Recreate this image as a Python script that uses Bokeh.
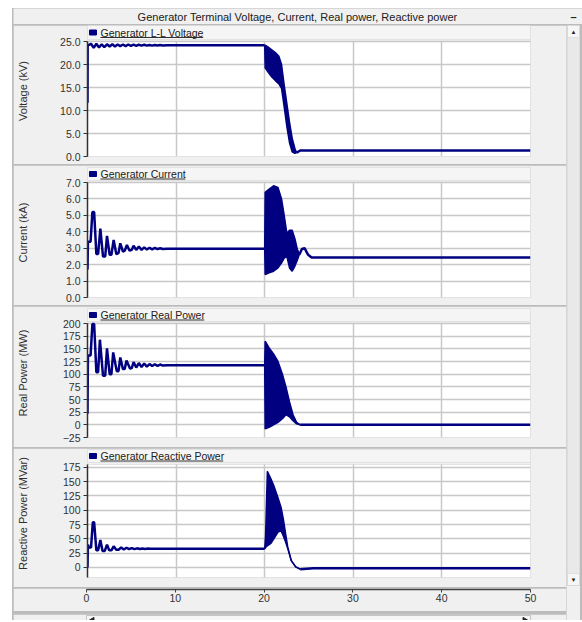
import math
from bokeh.plotting import figure
from bokeh.layouts import column, row
from bokeh.models import Range1d, FixedTicker, BoxAnnotation, Label, Grid, PrintfTickFormatter, Spacer
from bokeh.embed import file_html
from bokeh.resources import INLINE

# ---------------- data ----------------
TITLE = "Generator Terminal Voltage, Current, Real power, Reactive power"
x_ticks = [0, 10, 20, 30, 40, 50]

# Panel 1 : voltage
volt_legend = "Generator L-L Voltage"
volt_axis = "Voltage (kV)"
volt_ticks = [0, 5, 10, 15, 20, 25]
volt_t = [0.0, 0.02, 0.1, 0.4, 0.7, 1.0, 1.3, 1.6, 1.9, 2.2, 2.5, 2.8, 3.1, 3.4, 3.7, 4.0, 4.3,
          4.6, 4.9, 5.2, 5.5, 5.8, 6.1, 6.4, 6.7, 7.0, 7.3, 7.6, 7.9, 8.2, 8.5, 9.0, 20.0]
volt_v = [11.7, 24.0, 24.2, 24.5, 23.6, 24.5, 23.7, 24.4, 23.8, 24.4, 23.9, 24.4, 23.9, 24.35, 24.0,
          24.35, 24.0, 24.35, 24.05, 24.3, 24.05, 24.3, 24.1, 24.3, 24.1, 24.25, 24.1, 24.25, 24.15,
          24.25, 24.15, 24.2, 24.2]
volt_env_t = [20.0, 20.05, 20.4, 20.8, 21.2, 21.6, 21.9, 22.2, 22.5, 22.8, 23.1, 23.4, 23.6]
volt_env_hi = [24.2, 24.2, 23.8, 23.2, 22.6, 21.8, 20.0, 15.5, 11.5, 7.5, 4.0, 1.8, 0.8]
volt_env_lo = [24.2, 19.3, 18.3, 17.3, 16.5, 15.8, 14.8, 10.8, 6.5, 3.0, 1.0, 0.7, 0.8]
volt_post_t = [23.6, 24.0, 50.0]
volt_post_v = [0.8, 1.3, 1.3]

# Panel 2 : current
cur_legend = "Generator Current"
cur_axis = "Current (kA)"
cur_ticks = [0, 1, 2, 3, 4, 5, 6, 7]
cur_t = [0.0, 0.05, 0.35, 0.55, 0.75, 1.0, 1.2, 1.45, 1.75, 2.0, 2.2, 2.5, 2.7, 2.95, 3.25, 3.5,
         3.7, 4.0, 4.2, 4.45, 4.75, 5.0, 5.2, 5.5, 5.8, 6.1, 6.4, 6.7, 7.0, 7.3, 7.6, 7.9, 8.2,
         8.5, 9.0, 20.0]
cur_v = [1.7, 3.4, 3.4, 5.2, 5.2, 2.65, 2.65, 4.2, 2.5, 2.5, 3.75, 2.6, 2.6, 3.5, 2.65, 2.7, 3.3,
         2.8, 2.85, 3.2, 2.85, 2.9, 3.15, 2.9, 3.1, 2.9, 3.05, 2.92, 3.03, 2.93, 3.02, 2.94, 3.0,
         2.95, 2.97, 2.97]
cur_env_t = [20.0, 20.05, 20.5, 21.0, 21.5, 21.9, 22.2, 22.5, 22.8, 23.1, 23.4, 23.7, 23.9]
cur_env_hi = [2.97, 6.4, 6.6, 6.8, 6.7, 6.0, 5.0, 3.9, 4.1, 4.1, 3.6, 2.9, 2.7]
cur_env_lo = [2.97, 1.4, 1.5, 1.6, 1.8, 2.1, 2.4, 2.5, 1.8, 1.6, 1.9, 2.3, 2.6]
cur_post_t = [23.9, 24.2, 24.5, 24.9, 25.3, 50.0]
cur_post_v = [2.6, 2.95, 3.0, 2.6, 2.43, 2.43]

# Panel 3 : real power
p_legend = "Generator Real Power"
p_axis = "Real Power (MW)"
p_ticks = [-25, 0, 25, 50, 75, 100, 125, 150, 175, 200]
p_t = [0.0, 0.05, 0.35, 0.55, 0.75, 1.0, 1.2, 1.4, 1.75, 2.0, 2.2, 2.5, 2.7, 2.9, 3.3, 3.5, 3.7,
       4.0, 4.2, 4.4, 4.8, 5.0, 5.2, 5.5, 5.8, 6.1, 6.4, 6.7, 7.0, 7.3, 7.6, 7.9, 8.2, 8.5, 9.0, 20.0]
p_v = [22, 137, 137, 199, 199, 104, 104, 168, 97, 97, 151, 100, 100, 143, 106, 106, 133, 110, 110,
       127, 111, 112, 124, 113, 122, 114, 121, 115, 120, 116, 119.5, 116.5, 119, 117, 117.5, 117.5]
p_env_t = [20.0, 20.05, 20.5, 21.0, 21.5, 22.0, 22.4, 22.8, 23.2, 23.6, 24.0]
p_env_hi = [117.5, 165, 152, 140, 125, 100, 75, 45, 20, 5, 0]
p_env_lo = [117.5, -8, -5, 0, 5, 12, 20, 16, 8, 2, 0]
p_post_t = [24.0, 50.0]
p_post_v = [0, 0]

# Panel 4 : reactive power
q_legend = "Generator Reactive Power"
q_axis = "Reactive Power (MVar)"
q_ticks = [0, 25, 50, 75, 100, 125, 150, 175]
q_t = [0.0, 0.05, 0.15, 0.4, 0.6, 0.75, 1.0, 1.2, 1.45, 1.7, 1.95, 2.2, 2.45, 2.7, 2.95, 3.25, 3.5,
       3.8, 4.1, 4.4, 4.7, 5.0, 5.3, 5.6, 5.9, 6.2, 6.5, 6.8, 7.1, 20.0]
q_v = [0, 40, 35, 35, 79, 79, 30, 30, 48, 29, 29, 40, 30, 30, 37, 31, 31, 35, 31.5, 34.5, 32, 34,
       32, 33.5, 32.3, 33.2, 32.5, 33, 32.7, 32.7]
q_env_t = [20.0, 20.1, 20.3, 20.7, 21.1, 21.5, 21.85, 22.1, 22.35, 22.6, 23.0, 23.5, 24.0]
q_env_hi = [32.7, 56, 168, 155, 140, 122, 105, 85, 60, 36, 12, 1, -3]
q_env_lo = [32.7, 35, 38, 42, 52, 62, 64, 55, 45, 33, 12, 1, -3]
q_post_t = [24.0, 25.5, 50.0]
q_post_v = [-3, -1.2, -1.2]

# ---------------- style ----------------
NAVY = "#000080"
BG = "#f0f0f0"
SEP = "#bcbcbc"
FONT = "Liberation Sans"
PW = 553            # panel width (page x 13 .. 566)
LB = 73             # left border -> frame starts at page x 86
FRAME_W = 444
RB = PW - LB - FRAME_W
PX_PER_X = FRAME_W / 50.0


def make_panel(legend, ylabel, yticks, ybot, ytop, head_px, white_px, btop, bbot, fmt,
               lab_standoff, uline_px, t, v, et, ehi, elo, pt, pv):
    ppu = white_px / (ytop - ybot)
    yend = ytop + head_px / ppu

    def val(px):
        return yend - px / ppu

    p = figure(width=PW, height=btop + head_px + white_px + bbot,
               x_range=Range1d(0, 50), y_range=Range1d(ybot, yend),
               x_axis_location=None, toolbar_location=None, output_backend="svg",
               min_border_left=LB, min_border_right=RB,
               min_border_top=btop, min_border_bottom=bbot,
               background_fill_color=BG, border_fill_color=BG, outline_line_color=None)
    p.grid.visible = False

    p.add_layout(BoxAnnotation(bottom=ybot, top=ytop, fill_color="white", fill_alpha=1.0,
                               line_color="#b4b4b4", line_width=1, level="image"))
    p.add_layout(BoxAnnotation(bottom=val(head_px - 2), top=yend, fill_color="#f5f5f5",
                               fill_alpha=1.0, line_color="#bcbcbc", line_width=1, level="image"))

    p.add_layout(Grid(dimension=1, ticker=FixedTicker(ticks=yticks),
                      grid_line_color="#c8c8c8", grid_line_width=1.5))
    p.add_layout(Grid(dimension=0, ticker=FixedTicker(ticks=x_ticks), cross_bounds=(ybot, ytop),
                      grid_line_color="#c8c8c8", grid_line_width=1.5))

    ax = p.yaxis[0]
    ax.ticker = FixedTicker(ticks=yticks)
    ax.bounds = (ybot, ytop)
    if fmt:
        ax.formatter = PrintfTickFormatter(format=fmt)
    ax.axis_line_color = "#303030"
    ax.axis_line_width = 1.5
    ax.major_tick_out = 4
    ax.major_tick_in = 0
    ax.major_tick_line_color = "#303030"
    ax.minor_tick_line_color = None
    ax.major_label_standoff = 3
    ax.major_label_text_font = FONT
    ax.major_label_text_font_size = "10.5px"
    ax.major_label_text_color = "#303030"
    ax.axis_label = ylabel
    ax.axis_label_text_font = FONT
    ax.axis_label_text_font_size = "11px"
    ax.axis_label_text_font_style = "normal"
    ax.axis_label_text_color = "#303030"
    ax.axis_label_standoff = lab_standoff

    center = (head_px - 2) / 2.0
    p.rect(x=[5.5 / PX_PER_X], y=[val(center)], width=7, height=5, width_units="screen",
           height_units="screen", fill_color=NAVY, line_color=NAVY)
    tx = 13.0 / PX_PER_X
    p.add_layout(Label(x=tx, y=val(center), text=legend, text_font=FONT, text_font_size="10.5px",
                       text_color="#202020", text_baseline="middle"))
    p.segment(x0=[tx], y0=[val(center + 5)], x1=[tx + uline_px / PX_PER_X], y1=[val(center + 5)],
              line_color="#303030", line_width=1)
    p.add_layout(Label(x=50 + 30 / PX_PER_X, y=val(center), text="\u25b8", text_font=FONT,
                       text_font_size="10px", text_color="#202020", text_baseline="middle",
                       text_align="center"))

    p.varea(x=et, y1=elo, y2=ehi, fill_color=NAVY, fill_alpha=1.0)
    p.line(et, ehi, line_color=NAVY, line_width=1.5)
    p.line(et, elo, line_color=NAVY, line_width=1.5)
    p.line(t, v, line_color=NAVY, line_width=2.5)
    p.line(pt, pv, line_color=NAVY, line_width=2.5)
    return p


p1 = make_panel(volt_legend, volt_axis, volt_ticks, 0, 25, 16, 115, 0, 8, "%.1f", 28, 103,
                volt_t, volt_v, volt_env_t, volt_env_hi, volt_env_lo, volt_post_t, volt_post_v)
p2 = make_panel(cur_legend, cur_axis, cur_ticks, 0, 7, 15, 115, 2, 8, "%.1f", 34, 85,
                cur_t, cur_v, cur_env_t, cur_env_hi, cur_env_lo, cur_post_t, cur_post_v)
p3 = make_panel(p_legend, p_axis, p_ticks, -25, 200, 15, 114, 2, 10, None, 31, 104,
                p_t, p_v, p_env_t, p_env_hi, p_env_lo, p_post_t, p_post_v)
p4 = make_panel(q_legend, q_axis, q_ticks, -17.5, 180, 15, 113, 1, 10, None, 31, 123,
                q_t, q_v, q_env_t, q_env_hi, q_env_lo, q_post_t, q_post_v)

# bottom time axis
pax = figure(width=PW, height=23, x_range=Range1d(0, 50), y_range=Range1d(0, 1),
             y_axis_location=None, toolbar_location=None, output_backend="svg",
             min_border_left=LB, min_border_right=RB, min_border_top=0,
             min_border_bottom=22, background_fill_color=BG, border_fill_color=BG,
             outline_line_color=None)
pax.grid.visible = False
xa = pax.xaxis[0]
xa.ticker = FixedTicker(ticks=x_ticks)
xa.axis_line_color = "#404040"
xa.axis_line_width = 1.5
xa.major_tick_out = 3
xa.major_tick_in = 0
xa.major_tick_line_color = "#404040"
xa.minor_tick_line_color = None
xa.major_label_standoff = 1
xa.major_label_text_font = FONT
xa.major_label_text_font_size = "10.5px"
xa.major_label_text_color = "#303030"

# horizontal scrollbar strip (arrow buttons drawn as small triangles)
hs = figure(width=PW, height=9, x_range=Range1d(0, 50), y_range=Range1d(0, 1),
            x_axis_location=None, y_axis_location=None, toolbar_location=None,
            output_backend="svg", min_border_left=LB, min_border_right=RB, min_border_top=1,
            min_border_bottom=0, background_fill_color="#f6f6f6", border_fill_color=BG,
            outline_line_color="#c4c4c4")
hs.grid.visible = False
hs.scatter(x=[6 / PX_PER_X], y=[0.45], marker="triangle", angle=math.pi / 2, size=5,
           fill_color="#202020", line_color="#202020")
hs.scatter(x=[50 - 6 / PX_PER_X], y=[0.45], marker="triangle", angle=-math.pi / 2, size=5,
           fill_color="#202020", line_color="#202020")

# title bar
TW = 569
ttl = figure(width=TW, height=16, x_range=Range1d(0, TW), y_range=Range1d(0, 16),
             x_axis_location=None, y_axis_location=None, toolbar_location=None,
             output_backend="svg", min_border=0, background_fill_color=BG,
             border_fill_color=BG, outline_line_color=None)
ttl.grid.visible = False
ttl.add_layout(Label(x=284, y=8, text=TITLE, text_font=FONT, text_font_size="11px",
                     text_color="#202020", text_align="center", text_baseline="middle"))
ttl.add_layout(Label(x=560, y=8, text="\u2013", text_font=FONT, text_font_size="11px",
                     text_color="#202020", text_align="center", text_baseline="middle",
                     text_font_style="bold"))

# vertical scrollbar
VH = 139 + 140 + 141 + 139 + 23 + 9 + 4
vs = figure(width=14, height=VH, x_range=Range1d(0, 14), y_range=Range1d(0, VH),
            x_axis_location=None, y_axis_location=None, toolbar_location=None,
            output_backend="svg", min_border=0, background_fill_color=BG,
            border_fill_color=BG, outline_line_color=None)
vs.grid.visible = False
vs.add_layout(BoxAnnotation(left=1, right=13, bottom=VH - 560, top=VH, fill_color="#e9e9e9",
                            fill_alpha=1.0, line_color="#b8b8b8"))
vs.add_layout(BoxAnnotation(left=1, right=13, bottom=VH - 12, top=VH, fill_color="#f6f6f6",
                            fill_alpha=1.0, line_color="#b8b8b8"))
vs.add_layout(BoxAnnotation(left=1, right=13, bottom=VH - 560, top=VH - 548,
                            fill_color="#f6f6f6", fill_alpha=1.0, line_color="#b8b8b8"))
vs.add_layout(Label(x=7, y=VH - 6, text="\u25b2", text_font=FONT, text_font_size="6px",
                    text_color="#202020", text_align="center", text_baseline="middle"))
vs.add_layout(Label(x=7, y=VH - 554, text="\u25bc", text_font=FONT, text_font_size="6px",
                    text_color="#202020", text_align="center", text_baseline="middle"))

bottom = column(pax, hs, spacing=0)
left = column(p1, p2, p3, p4, bottom, spacing=1, styles={"background-color": SEP})
body = row(left, vs)
inner = column(ttl, body, spacing=1, styles={"background-color": SEP})
framed = row(Spacer(width=12, height=16 + 1 + VH, styles={"background-color": "white"}), inner,
             spacing=1, styles={"background-color": SEP})
root = column(Spacer(width=582, height=8), framed)

open("out.html", "w").write(file_html(root, INLINE))
